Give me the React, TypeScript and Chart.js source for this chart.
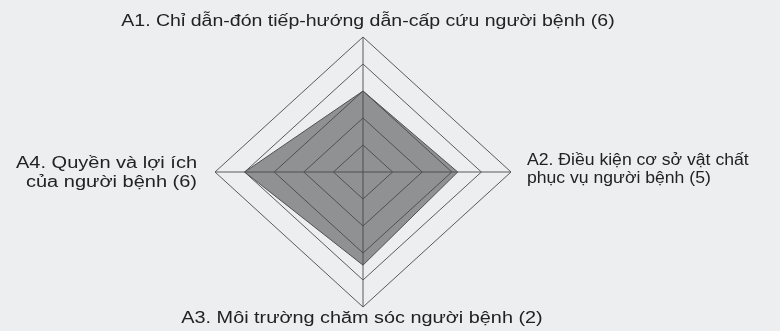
import React, { useEffect, useRef } from "react";
import { Chart, registerables } from "chart.js";

Chart.register(...registerables);

const categories: string[][] = [
  ["A1. Chỉ dẫn-đón tiếp-hướng dẫn-cấp cứu người bệnh (6)"],
  ["A2. Điều kiện cơ sở vật chất", "phục vụ người bệnh (5)"],
  ["A3. Môi trường chăm sóc người bệnh (2)"],
  ["A4. Quyền và lợi ích", "của người bệnh (6)"],
];
const scores: number[] = [3.0, 3.2, 3.45, 4.0];
const scaleMin = 0;
const scaleMax = 5;
const scaleStep = 1;

const W = 780;
const H = 331;
const CX = 363;
const CY = 172;
const RY = 135;
const SX = 148 / 135;
const BG = "#eceef0";
const TEXT = "#222222";
const FONT = '16px "Liberation Sans", Arial, sans-serif';

// per-label text placement: alignment, offset from outer vertex, line height, horizontal text stretch
const labelStyle = [
  { align: "center", dx: 5, dy: -11, lh: 18, sx: 1.22 },
  { align: "left", dx: 16, dy: -7, lh: 18, sx: 1.1 },
  { align: "center", dx: -1, dy: 16, lh: 18, sx: 1.24 },
  { align: "right", dx: -18, dy: -4, lh: 19, sx: 1.25 },
];

const labelPlugin = {
  id: "axisLabels",
  afterDraw(chart: any) {
    const scale = chart.scales.r;
    const ctx = chart.ctx;
    const labels = chart.data.labels as string[][];
    ctx.save();
    ctx.fillStyle = TEXT;
    ctx.font = FONT;
    ctx.textBaseline = "alphabetic";
    labels.forEach((lines, i) => {
      const st = labelStyle[i];
      const p = scale.getPointPosition(i, scale.drawingArea);
      ctx.textAlign = st.align;
      lines.forEach((t, k) => {
        ctx.save();
        ctx.translate(p.x + st.dx, p.y + st.dy + k * st.lh);
        ctx.scale(st.sx, 1);
        ctx.fillText(t, 0, 0);
        ctx.restore();
      });
    });
    ctx.restore();
  },
};

export default function App() {
  const ref = useRef<HTMLCanvasElement>(null);
  useEffect(() => {
    document.body.style.margin = "0";
    const chart = new Chart(ref.current!, {
      type: "radar",
      data: {
        labels: categories,
        datasets: [
          {
            data: scores,
            fill: true,
            backgroundColor: "rgba(70,70,70,0.55)",
            borderColor: "#505050",
            borderWidth: 1,
            pointRadius: 0,
            pointHoverRadius: 0,
          },
        ],
      },
      options: {
        animation: false,
        responsive: false,
        maintainAspectRatio: false,
        events: [],
        layout: { padding: 0 },
        plugins: { legend: { display: false }, tooltip: { enabled: false } },
        scales: {
          r: {
            min: scaleMin,
            max: scaleMax,
            ticks: { stepSize: scaleStep, display: false },
            grid: { color: "#5a5a5a", lineWidth: 1 },
            angleLines: { color: "#5a5a5a", lineWidth: 1 },
            pointLabels: { display: false },
            afterFit: (scale: any) => {
              scale.xCenter = CX;
              scale.yCenter = CY;
              scale.drawingArea = RY;
              const orig = Object.getPrototypeOf(scale).getPointPosition;
              scale.getPointPosition = function (index: number, distance: number, extra = 0) {
                const p = orig.call(this, index, distance, extra);
                return { x: this.xCenter + (p.x - this.xCenter) * SX, y: p.y, angle: p.angle };
              };
            },
          } as any,
        },
      },
      plugins: [labelPlugin],
    });
    return () => chart.destroy();
  }, []);
  return (
    <div style={{ width: W, height: H, background: BG }}>
      <canvas ref={ref} width={W} height={H} style={{ display: "block" }} />
    </div>
  );
}
